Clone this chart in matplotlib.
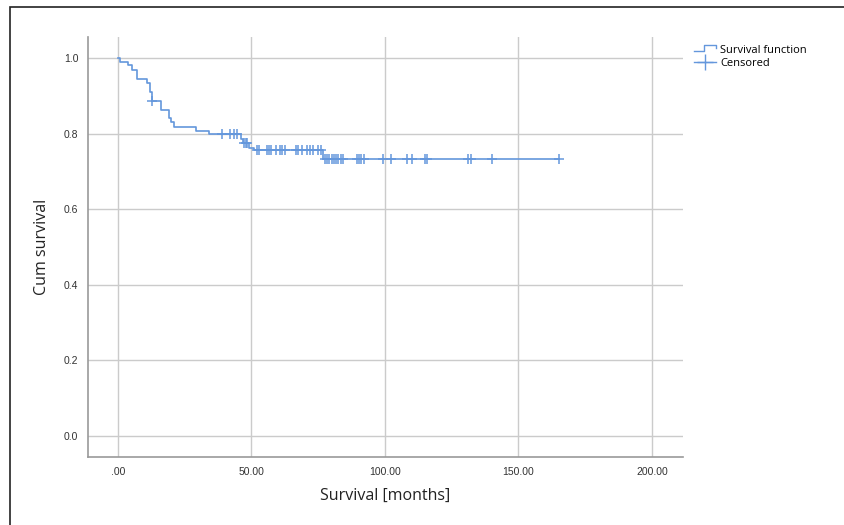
import numpy as np
import matplotlib.pyplot as plt
from matplotlib.lines import Line2D
from matplotlib.legend_handler import HandlerBase
from matplotlib.patches import Rectangle

# Kaplan-Meier steps
event_times = [0.7, 3.9, 5.1, 7.0, 11.0, 12.0, 12.6, 16.0, 19.2, 20.0, 21.0,
               29.2, 34.0, 46.0, 46.9, 49.2, 51.1, 76.7]
surv_after = [0.990, 0.981, 0.968, 0.946, 0.933, 0.911, 0.887, 0.864, 0.842,
              0.832, 0.818, 0.808, 0.798, 0.786, 0.775, 0.763, 0.758, 0.733]
censor_times = [12.9, 38.8, 41.9, 43.5, 44.6, 47.3, 47.9, 48.5, 51.9, 52.9,
                55.9, 56.6, 57.5, 59.3, 60.6, 61.5, 62.5, 66.5, 67.5, 69.1,
                70.9, 71.9, 72.9, 75.0, 75.9, 77.5, 78.4, 79.1, 80.0, 80.9,
                81.6, 82.5, 83.4, 84.4, 89.4, 90.3, 91.2, 92.1, 99.1, 102.2,
                108.1, 110.2, 115.0, 115.8, 131.2, 132.4, 139.9, 165.3]
x_ticks = [0, 50, 100, 150, 200]
x_ticklabels = ['.00', '50.00', '100.00', '150.00', '200.00']
y_ticks = [0.0, 0.2, 0.4, 0.6, 0.8, 1.0]
y_ticklabels = ['0.0', '0.2', '0.4', '0.6', '0.8', '1.0']

blue = '#6497dc'
grid_col = '#cbcbcb'

# step curve from t=0 to last censored time
t_line = np.array([0.0] + event_times + [max(censor_times)])
s_line = np.array([1.0] + surv_after + [surv_after[-1]])

# y of each censored mark = survival level at that time
idx = np.searchsorted(event_times, censor_times, side='right')
levels = np.array([1.0] + surv_after)
censor_y = levels[idx]


class StepHandler(HandlerBase):
    def create_artists(self, legend, orig_handle, xdescent, ydescent,
                       width, height, fontsize, trans):
        x0 = -xdescent
        y0 = -ydescent
        xs = [x0, x0 + width * 0.45, x0 + width * 0.45, x0 + width, x0 + width]
        ys = [y0 + height * 0.2, y0 + height * 0.2, y0 + height * 0.95,
              y0 + height * 0.95, y0 + height * 0.6]
        ln = Line2D(xs, ys, color=blue, lw=1.0, transform=trans)
        return [ln]


fig = plt.figure(figsize=(8.44, 5.25), dpi=100)
ax = fig.add_axes([88 / 844, 68 / 525, 595 / 844, 420 / 525])

ax.step(t_line, s_line, where='post', color=blue, lw=1.2, zorder=3)
ax.plot(censor_times, censor_y, linestyle='none', marker='+', color=blue,
        markersize=6.5, markeredgewidth=1.1, zorder=4)

ax.set_xlim(-11.2, 211.6)
ax.set_ylim(-0.056, 1.056)
ax.set_xticks(x_ticks)
ax.set_xticklabels(x_ticklabels)
ax.set_yticks(y_ticks)
ax.set_yticklabels(y_ticklabels)
ax.tick_params(length=0, labelsize=7.5, colors='#333333', pad=7)
for lab in ax.get_xticklabels() + ax.get_yticklabels():
    lab.set_family('Liberation Sans')
ax.grid(True, color=grid_col, lw=1.0)
ax.set_axisbelow(True)
for side in ['top', 'right']:
    ax.spines[side].set_visible(False)
for side in ['left', 'bottom']:
    ax.spines[side].set_color('#999999')
    ax.spines[side].set_linewidth(1.2)

ax.set_xlabel('Survival [months]', fontsize=11.5, family='Open Sans',
              color='#222222', labelpad=8)
ax.set_ylabel('Cum survival', fontsize=11.5, family='Open Sans',
              color='#222222', labelpad=10)

h_surv = Line2D([], [], color=blue)
h_cens = Line2D([], [], color=blue, marker='+', markersize=11, lw=1.0)
leg = ax.legend([h_surv, h_cens], ['Survival function', 'Censored'],
                handler_map={h_surv: StepHandler()},
                loc='upper left', bbox_to_anchor=(1.005, 1.0),
                frameon=False, prop={'family': 'Open Sans', 'size': 8},
                handlelength=2.0, handletextpad=0.4, labelspacing=0.2,
                borderaxespad=0.3)

# outer frame of the original figure
fig.add_artist(Rectangle((10 / 844, -0.1), 1.2, (525 - 7) / 525 + 0.1,
                         transform=fig.transFigure, fill=False,
                         edgecolor='#222222', lw=1.2, clip_on=False))

fig.savefig('out.png', dpi=100)
